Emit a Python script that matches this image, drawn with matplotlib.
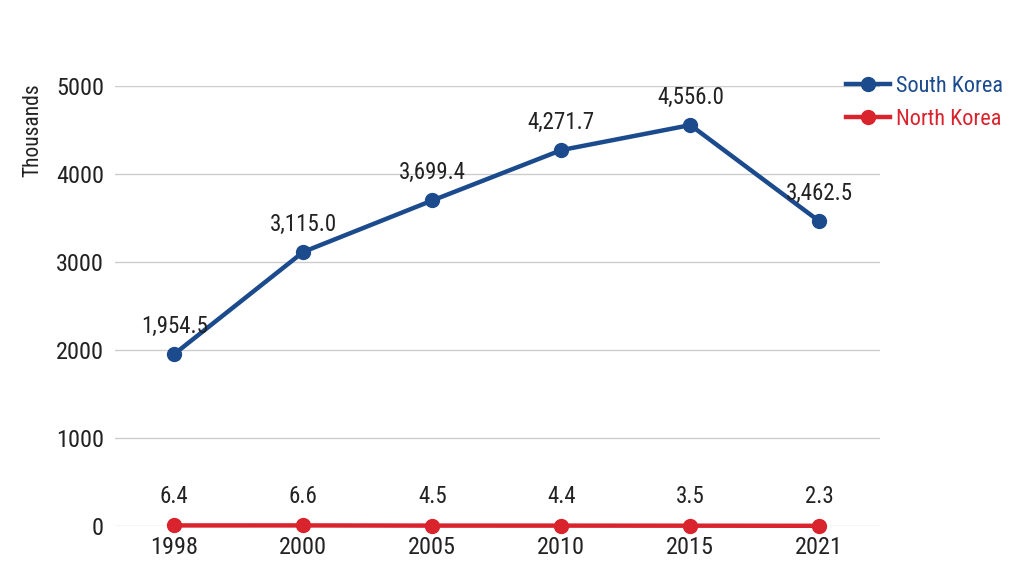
import matplotlib
matplotlib.use("Agg")
import matplotlib.pyplot as plt
from matplotlib import font_manager

# find a condensed / narrow sans font if one is installed
cands = []
for f in font_manager.fontManager.ttflist:
    n = f.name.lower()
    fn = f.fname.lower()
    if f.style != 'normal' or f.weight not in (400, 'normal', 'regular'):
        continue
    if 'narrow' in n or 'condensed' in n or 'condensed' in fn or 'narrow' in fn or f.stretch in ('condensed', 'semi-condensed'):
        cands.append(f)
pref = ['roboto', 'liberation', 'open', 'noto', 'dejavu']
cands.sort(key=lambda f: next((i for i, p in enumerate(pref) if p in f.name.lower()), 99))
if cands:
    font_manager.fontManager.addfont(cands[0].fname)
    fam = cands[0].name
    stretch = cands[0].stretch
else:
    fam = 'Roboto'
    stretch = 'normal'
plt.rcParams['font.family'] = [fam, 'DejaVu Sans']
plt.rcParams['font.stretch'] = stretch

years = ["1998", "2000", "2005", "2010", "2015", "2021"]
south = [1954.5, 3115.0, 3699.4, 4271.7, 4556.0, 3462.5]
north = [6.4, 6.6, 4.5, 4.4, 3.5, 2.3]
south_labels = ["1,954.5", "3,115.0", "3,699.4", "4,271.7", "4,556.0", "3,462.5"]
north_labels = ["6.4", "6.6", "4.5", "4.4", "3.5", "2.3"]
yticks = [0, 1000, 2000, 3000, 4000, 5000]

blue = "#1b4b8d"
red = "#d9232d"
txt = "#222222"

fig = plt.figure(figsize=(10.24, 5.72), dpi=100)
ax = fig.add_axes([115/1024, 1-526/572, (880-115)/1024, (526-86)/572])
x = list(range(len(years)))

ax.plot(x, south, color=blue, lw=3.2, marker='o', ms=10, clip_on=False, zorder=3, label="South Korea")
ax.plot(x, north, color=red, lw=3.2, marker='o', ms=10, clip_on=False, zorder=3, label="North Korea")

for xi, v, s in zip(x, south, south_labels):
    ax.annotate(s, (xi, v), xytext=(0, 20), textcoords='offset points', ha='center', va='center',
                fontsize=16.5, color=txt)
for xi, v, s in zip(x, north, north_labels):
    ax.annotate(s, (xi, v), xytext=(0, 21), textcoords='offset points', ha='center', va='center',
                fontsize=16.5, color=txt)

ax.set_xlim(-0.46, 5.47)
ax.set_ylim(0, 5000)
ax.set_yticks(yticks)
ax.set_yticklabels([str(t) for t in yticks], fontsize=17.5, color=txt)
ax.set_xticks(x)
ax.set_xticklabels(years, fontsize=17.5, color=txt)
ax.tick_params(axis='both', length=0)
ax.tick_params(axis='y', pad=8)
ax.tick_params(axis='x', pad=7)
ax.grid(axis='y', color='#cccccc', lw=1)
ax.set_axisbelow(True)
for sp in ax.spines.values():
    sp.set_visible(False)

fig.text(33/1024, 1-130/572, "Thousands", rotation=90, ha='center', va='center', fontsize=15.5, color=txt)

leg = fig.legend(loc='upper left', bbox_to_anchor=(826/1024, 1-56/572), frameon=False,
                 fontsize=16, handlelength=2.0, labelspacing=0.55, handletextpad=0.25)
for t, c in zip(leg.get_texts(), [blue, red]):
    t.set_color(c)

fig.savefig("out.png", dpi=100, facecolor='white')
